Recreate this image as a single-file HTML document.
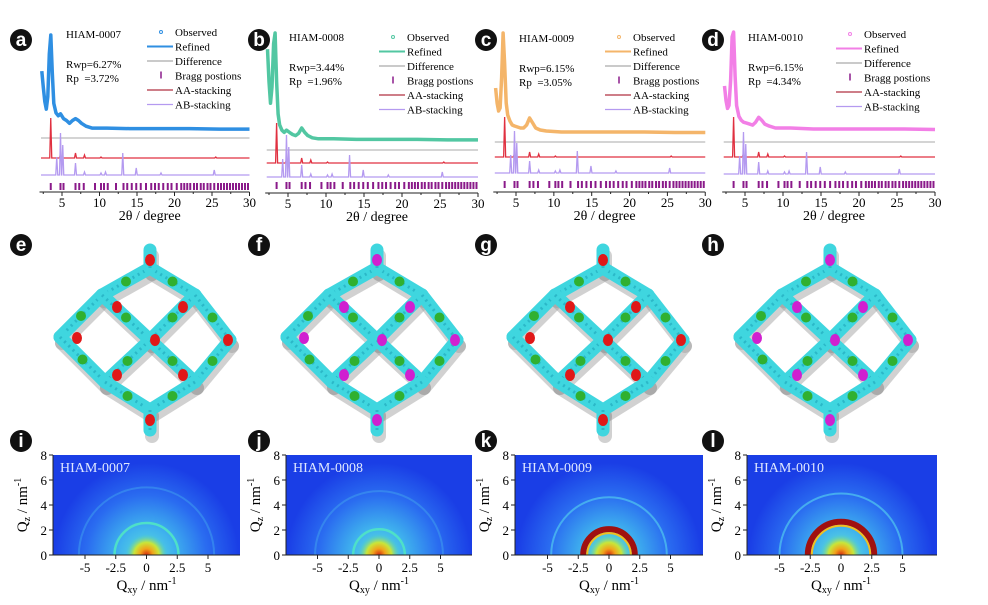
<!DOCTYPE html>
<html><head><meta charset="utf-8">
<style>
html,body{margin:0;padding:0;background:#fff;width:988px;height:605px;overflow:hidden;}
svg{display:block;font-family:"Liberation Serif",serif;overflow:hidden;}
.lbl{font-family:"Liberation Sans",sans-serif;font-weight:bold;fill:#fff;font-size:19px;}
</style></head>
<body>
<svg id="fig" width="988" height="605" viewBox="0 0 988 605" xmlns="http://www.w3.org/2000/svg">
<defs id="defs"></defs>
<g id="xrd"></g>
<g id="frames"></g>
<g id="giwaxs"></g>
</svg>
<script>
// ---------- XRD data ----------
const xTicks=[5,10,15,20,25,30];
const obsTheta=[2.3,2.5,2.7,2.9,3.1,3.3,3.5,3.7,3.9,4.2,4.5,4.8,5.2,5.6,6.0,6.4,6.8,7.2,7.6,8.2,9,11,14,18,22,26,30];
const obsA=[0.62,0.45,0.3,0.22,0.35,0.8,1.0,0.6,0.28,0.18,0.15,0.17,0.12,0.1,0.07,0.1,0.12,0.1,0.07,0.04,0.02,0.02,0.015,0.015,0.015,0.01,0.01];
const obsB=[0.85,0.55,0.35,0.5,0.9,1.0,0.55,0.25,0.15,0.1,0.08,0.1,0.08,0.06,0.05,0.07,0.12,0.08,0.05,0.03,0.02,0.02,0.015,0.015,0.015,0.01,0.01];
const obsC=[0.45,0.3,0.22,0.25,0.55,1.0,0.7,0.3,0.18,0.12,0.08,0.07,0.06,0.05,0.05,0.08,0.15,0.1,0.05,0.03,0.02,0.01,0.01,0.01,0.01,0.005,0.005];
const obsD=[0.45,0.3,0.22,0.25,0.5,0.95,1.0,0.55,0.25,0.14,0.1,0.08,0.07,0.06,0.05,0.08,0.13,0.1,0.06,0.04,0.02,0.02,0.01,0.01,0.01,0.01,0.005];
const aaPos=[3.5,4.8,6.8,8.0,10.2,25.5];
const aaH=[40,4,5,3,1,1];
const abPos=[4.3,4.8,5.1,6.8,8.0,10.2,10.8,13.1,14.9,18.2,25.3];
const abH=[18,42,30,12,3,2,3,22,7,2,5];
const braggPos=[3.5,4.8,5.2,6.8,7.3,7.9,9.4,10.2,10.6,11.1,12.2,13.2,13.7,14.3,14.9,15.5,16.2,16.9,17.4,17.9,18.5,19.1,19.6,20.3,20.9,21.3,21.7,22.1,22.6,23,23.5,23.9,24.4,24.8,25.3,25.8,26.2,26.6,27,27.4,27.8,28.2,28.6,29,29.4,29.8];
const panelNames=["HIAM-0007","HIAM-0008","HIAM-0009","HIAM-0010"];
const rwp=["6.27%","3.44%","6.15%","6.15%"];
const rp=["3.72%","1.96%","3.05%","4.34%"];
const legendText=["Observed","Refined","Difference","Bragg postions","AA-stacking","AB-stacking"];

const NS="http://www.w3.org/2000/svg";
function mk(tag,attrs,parent,txt){const e=document.createElementNS(NS,tag);for(const k in attrs)e.setAttribute(k,attrs[k]);if(txt!==undefined)e.textContent=txt;parent.appendChild(e);return e;}

const panels=[
 {id:"a",x5:62,sc:7.5,base:130,amp:95,diff:138,aa:158,ab:175,br:183,axis:192,col:"#2f8fe2",obs:obsA,lgx:175,lgy:36,hx:66,hy:38,cx:21,cy:40},
 {id:"b",x5:288,sc:7.6,base:141,amp:108,diff:150,aa:163,ab:177,br:182,axis:193,col:"#52c7a2",obs:obsB,lgx:407,lgy:41,hx:289,hy:41,cx:259,cy:40},
 {id:"c",x5:516,sc:7.57,base:133,amp:100,diff:142,aa:157,ab:173,br:181,axis:192,col:"#f4b56a",obs:obsC,lgx:633,lgy:41,hx:519,hy:42,cx:486,cy:40},
 {id:"d",x5:745,sc:7.6,base:130,amp:98,diff:142,aa:157,ab:174,br:181,axis:192,col:"#f27fe6",obs:obsD,lgx:864,lgy:38,hx:748,hy:41,cx:713,cy:40}
];
const G=document.getElementById('xrd');
panels.forEach((p,i)=>{
 const g=mk('g',{},G);
 
 
 const X=t=>p.x5+(t-5)*p.sc;
 const Y=v=>p.base-v*p.amp;
 const lc=mk('circle',{cx:p.cx,cy:p.cy,r:11,fill:'#111'},g);
 
 
 mk('text',{x:p.cx,y:p.cy+6,'text-anchor':'middle',class:'lbl'},g,p.id);
 let d='';p.obs.forEach((v,k)=>{d+=(k?'L':'M')+X(obsTheta[k]).toFixed(1)+','+Y(v).toFixed(1);});
 const c=mk('path',{d:d,fill:'none',stroke:p.col,'stroke-width':3.5,'stroke-linejoin':'round'},g);
 
 
 const df=mk('line',{x1:X(2.2),x2:X(30),y1:p.diff,y2:p.diff,stroke:'#aaa','stroke-width':1},g);
 
 
 let da='M'+X(2.2)+','+p.aa;aaPos.forEach((t,k)=>{da+='L'+(X(t)-1)+','+p.aa+'L'+X(t)+','+(p.aa-aaH[k])+'L'+(X(t)+1)+','+p.aa;});da+='L'+X(30)+','+p.aa;
 const aa=mk('path',{d:da,fill:'none',stroke:'#e03040','stroke-width':1.3},g);
 
 
 let db='M'+X(2.2)+','+p.ab;abPos.forEach((t,k)=>{db+='L'+(X(t)-1)+','+p.ab+'L'+X(t)+','+(p.ab-abH[k])+'L'+(X(t)+1)+','+p.ab;});db+='L'+X(30)+','+p.ab;
 const ab=mk('path',{d:db,fill:'none',stroke:'#b49af0','stroke-width':1.3},g);
 
 
 braggPos.forEach(t=>{const b=mk('line',{x1:X(t),x2:X(t),y1:p.br,y2:p.br+7,stroke:'#8a1a8a','stroke-width':2},g);
  
  });
 const ax=mk('line',{x1:X(2.0),x2:X(30),y1:p.axis,y2:p.axis,stroke:'#222','stroke-width':1},g);
 
 
 xTicks.forEach(t=>{mk('line',{x1:X(t),x2:X(t),y1:p.axis,y2:p.axis+4,stroke:'#222'},g);
  mk('line',{x1:X(t-2.5),x2:X(t-2.5),y1:p.axis,y2:p.axis+2,stroke:'#222'},g);
  mk('text',{x:X(t),y:p.axis+15,'text-anchor':'middle','font-size':13},g,t);});
 const xt=mk('text',{x:X(17.5)-6,y:p.axis+28,'text-anchor':'middle','font-size':14},g,'2θ / degree');
 
 
 mk('text',{x:p.hx,y:p.hy,'font-size':11},g,panelNames[i]);
 mk('text',{x:p.hx,y:p.hy+30,'font-size':11},g,'Rwp='+rwp[i]);
 mk('text',{x:p.hx,y:p.hy+44,'font-size':11},g,'Rp\u00a0\u00a0='+rp[i]);
 const lg=mk('g',{},g);
 
 
 const lcol=[p.col,p.col,'#aaa','#8a1a8a','#b03040','#b49af0'];
 legendText.forEach((s,k)=>{const yy=p.lgy+k*14.5;
  if(k==0) mk('circle',{cx:p.lgx-14,cy:yy-4,r:1.5,fill:'none',stroke:p.col},lg);
  else if(k==3) mk('line',{x1:p.lgx-14,x2:p.lgx-14,y1:yy-8,y2:yy-1,stroke:'#8a1a8a','stroke-width':1.5},lg);
  else mk('line',{x1:p.lgx-28,x2:p.lgx-2,y1:yy-4,y2:yy-4,stroke:lcol[k],'stroke-width':k==1?2:1.2},lg);
  const tx=mk('text',{x:p.lgx,y:yy,'font-size':11},lg,s);
  
  
 });
});

// ---------- framework models ----------
const nodes={T:[0,-72],UL:[-48,-45],UR:[45,-45],L:[-90,-3],C:[0,0],R:[80,0],LL:[-45,42],LR:[45,42],B:[0,70],ST:[0,-90],SB:[0,90]};
const edges=[["T","UL"],["T","UR"],["UL","L"],["UL","C"],["UR","C"],["UR","R"],["L","LL"],["C","LL"],["C","LR"],["R","LR"],["LL","B"],["LR","B"],["T","ST"],["B","SB"]];
const frameCenters=[[150,340],[377,340],[603,340],[830,340]];
const dotCol=["#e01818","#d020d0","#e01818","#d020d0"];
const frameLbl=["e","f","g","h"];
const F=document.getElementById('frames');
frameCenters.forEach((fc,i)=>{
 const g=mk('g',{transform:'translate('+fc[0]+','+fc[1]+')'},F);
 
 
 const lx=[21,259,486,713][i];
 mk('circle',{cx:lx-fc[0],cy:245-fc[1],r:11,fill:'#111'},g);
 mk('text',{x:lx-fc[0],y:251-fc[1],'text-anchor':'middle',class:'lbl'},g,frameLbl[i]);
 edges.forEach(e=>{const a=nodes[e[0]],b=nodes[e[1]];
  mk('line',{x1:a[0]+2,y1:a[1]+6,x2:b[0]+2,y2:b[1]+6,stroke:'#9a9a9a','stroke-width':14,'stroke-linecap':'round',opacity:0.45},g);});
 edges.forEach(e=>{const a=nodes[e[0]],b=nodes[e[1]];
  mk('line',{x1:a[0],y1:a[1],x2:b[0],y2:b[1],stroke:'#3fd6df','stroke-width':13,'stroke-linecap':'round'},g);
  mk('line',{x1:a[0],y1:a[1],x2:b[0],y2:b[1],stroke:'#2bb8c8','stroke-width':3,'stroke-dasharray':'2 4'},g);
  if(e[1]!="SB"&&e[1]!="ST"){
   mk('circle',{cx:(a[0]+b[0])/2,cy:(a[1]+b[1])/2,r:5,fill:'#30b030'},g);}
 });
 [[-33,-33],[33,-33],[-73,-2],[5,0],[78,0],[-33,35],[33,35],[0,-80],[0,80]].forEach(q=>{
  mk('ellipse',{cx:q[0],cy:q[1],rx:5,ry:6,fill:dotCol[i]},g);});
});

// ---------- GIWAXS ----------
const qTicksX=[-5,-2.5,0,2.5,5];
const qTicksY=[0,2,4,6,8];
const ringInner=[2.6,2.1,2.1,2.7];
const ringOuter=[5.5,5.2,4.7,5.0];
const ringStrong=[0,0,1,1];
const giLbl=["i","j","k","l"];
const plotLeft=[53,286,515,747];
const plotW=[187,186,188,190];
const Gi=document.getElementById('giwaxs');
const defs=document.getElementById('defs');
function arc(cx,cy,r){return 'M'+(cx-r)+','+cy+' A'+r+','+r+' 0 0 1 '+(cx+r)+','+cy;}
plotLeft.forEach((L,i)=>{
 const top=455,bot=555,W=plotW[i],cx0=L+W/2+(i==3?-1:0);
 const sx=v=>cx0+v*12.3, sy=v=>bot-v*12.5;
 // gradients in user space so no shape extends below plot
 const gl=mk('radialGradient',{id:'gl'+i,gradientUnits:'userSpaceOnUse',cx:cx0,cy:bot,r:sx(7.5)-cx0},defs);
 [[0,i>=2?'#6ee8d0':'#5fe0d8'],[0.3,'#3fb2ee'],[0.65,'#2a6cf0'],[1,'#1a3ee6']].forEach(s=>mk('stop',{offset:s[0],'stop-color':s[1]},gl));
 const co=mk('radialGradient',{id:'co'+i,gradientUnits:'userSpaceOnUse',cx:cx0,cy:bot,r:sx(1.7)-cx0},defs);
 [[0,'#d42a10',1],[0.3,'#f2a21a',1],[0.6,'#c8e63a',1],[1,'#3fd0c8',0]].forEach(s=>mk('stop',{offset:s[0],'stop-color':s[1],'stop-opacity':s[2]},co));
 const g=mk('g',{},Gi);
 
 
 const lx=[21,259,486,713][i];
 mk('circle',{cx:lx,cy:441,r:11,fill:'#111'},g);
 mk('text',{x:lx,y:447,'text-anchor':'middle',class:'lbl'},g,giLbl[i]);
 const cp=mk('clipPath',{id:'cp'+i},g);
 mk('rect',{x:L,y:top,width:W,height:bot-top},cp);
 const pg=mk('g',{'clip-path':'url(#cp'+i+')'},g);
 mk('rect',{x:L,y:top,width:W,height:bot-top,fill:'url(#gl'+i+')'},pg);
 const ro=mk('path',{d:arc(cx0,bot,sx(ringOuter[i])-cx0),fill:'none',stroke:'#48b4ee','stroke-width':2,opacity:i>=2?0.9:0.4},pg);
 
 
 const ri=mk('path',{d:arc(cx0,bot,sx(ringInner[i])-cx0),fill:'none',stroke:ringStrong[i]?'#a01010':'#4ee0c8','stroke-width':ringStrong[i]?6:2.5},pg);
 
 
 if(ringStrong[i]) mk('path',{d:arc(cx0,bot,sx(ringInner[i])-cx0-4),fill:'none',stroke:'#f0c020','stroke-width':2},pg);
 mk('rect',{x:L,y:top,width:W,height:bot-top,fill:'url(#co'+i+')'},pg);
 mk('text',{x:L+7,y:top+17,'font-size':14,fill:'#dfe8ff'},g,'HIAM-00'+['07','08','09','10'][i]);
 mk('line',{x1:L,x2:L+W,y1:bot,y2:bot,stroke:'#222'},g);
 mk('line',{x1:L,x2:L,y1:top,y2:bot,stroke:'#222'},g);
 qTicksX.forEach(v=>{mk('line',{x1:sx(v),x2:sx(v),y1:bot,y2:bot+4,stroke:'#222'},g);
  mk('text',{x:sx(v),y:bot+17,'text-anchor':'middle','font-size':13},g,v);});
 qTicksY.forEach(v=>{mk('line',{x1:L-4,x2:L,y1:sy(v),y2:sy(v),stroke:'#222'},g);
  mk('text',{x:L-6,y:sy(v)+5,'text-anchor':'end','font-size':13},g,v);});
 const xt=mk('text',{x:cx0,y:bot+35,'text-anchor':'middle','font-size':15},g);
 
 
 xt.innerHTML='Q<tspan font-size="10" dy="3">xy</tspan><tspan dy="-3"> / nm</tspan><tspan font-size="10" dy="-6">-1</tspan>';
 const yt=mk('text',{transform:'translate('+(L-26)+','+(top+50)+') rotate(-90)','text-anchor':'middle','font-size':15},g);
 
 
 yt.innerHTML='Q<tspan font-size="10" dy="3">z</tspan><tspan dy="-3"> / nm</tspan><tspan font-size="10" dy="-6">-1</tspan>';
});
</script>
</body></html>
